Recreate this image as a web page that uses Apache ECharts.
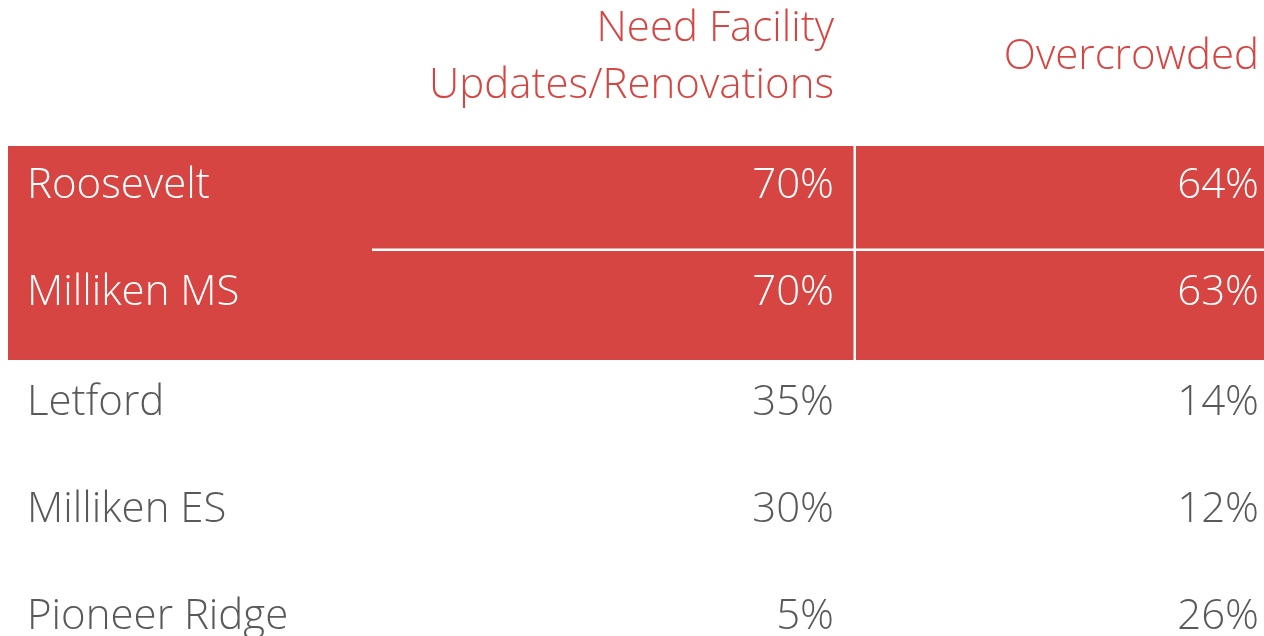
<!DOCTYPE html>
<html>
<head>
<meta charset="utf-8">
<script src="https://cdn.jsdelivr.net/npm/echarts@6/dist/echarts.min.js"></script>
<style>
  html, body { margin: 0; padding: 0; background: #fff; }
  #main { width: 1264px; height: 636px; }
</style>
</head>
<body>
<div id="main"></div>
<script>
// 数据
var schools = ['Roosevelt', 'Milliken MS', 'Letford', 'Milliken ES', 'Pioneer Ridge'];
var needFacility = [70, 70, 35, 30, 5];
var overcrowded = [64, 63, 14, 12, 26];
var highlighted = [1, 1, 0, 0, 0];
var headers = ['Need Facility\nUpdates/Renovations', 'Overcrowded'];

var RED = '#D64541';
var GREY = '#595959';
var FONT = '"Open Sans", "Liberation Sans", sans-serif';
var WEIGHT = 300;
var SIZE = 42;

var chart = echarts.init(document.getElementById('main'));

var rows = schools.map(function (name, i) {
    return [0, i, needFacility[i], overcrowded[i], highlighted[i], name];
});

function renderRow(params, api) {
    var idx = api.value(1);
    var center = api.coord([0, idx]);
    var h = api.size([0, 1])[1];
    var top = center[1] - h / 2;
    var hi = api.value(4) === 1;
    var nextHi = idx + 1 < highlighted.length && highlighted[idx + 1] === 1;
    var color = hi ? '#fff' : GREY;
    var ty = top + (hi ? 40 : 43);
    var children = [];
    if (hi) {
        children.push({ type: 'rect', shape: { x: 8, y: top, width: 1264 - 8, height: h }, style: { fill: RED } });
        children.push({ type: 'rect', shape: { x: 853.5, y: top, width: 2.5, height: h }, style: { fill: '#fff' } });
        if (nextHi) {
            children.push({ type: 'rect', shape: { x: 372, y: top + h - 4.5, width: 1264 - 372, height: 2.5 }, style: { fill: '#fff' } });
        }
    }
    var txt = { fill: color, fontSize: SIZE, fontFamily: FONT, fontWeight: WEIGHT, verticalAlign: 'middle' };
    children.push({ type: 'text', style: echarts.util.extend({ text: api.value(5), x: 27, y: ty, align: 'left' }, txt) });
    children.push({ type: 'text', style: echarts.util.extend({ text: api.value(2) + '%', x: 834, y: ty, align: 'right' }, txt) });
    children.push({ type: 'text', style: echarts.util.extend({ text: api.value(3) + '%', x: 1259, y: ty, align: 'right' }, txt) });
    return { type: 'group', children: children };
}

var option = {
    animation: false,
    grid: { left: 0, right: 0, top: 146, bottom: -45, containLabel: false, outerBoundsMode: 'none' },
    xAxis: { type: 'value', min: 0, max: 1264, show: false },
    yAxis: { type: 'category', data: schools, inverse: true, show: false },
    graphic: [
        { type: 'text', x: 834, y: 1, style: { text: headers[0], align: 'right', verticalAlign: 'top', fill: RED, fontSize: SIZE, lineHeight: 57, fontFamily: FONT, fontWeight: WEIGHT } },
        { type: 'text', x: 1259, y: 29, style: { text: headers[1], align: 'right', verticalAlign: 'top', fill: RED, fontSize: SIZE, lineHeight: 57, fontFamily: FONT, fontWeight: WEIGHT } }
    ],
    series: [{
        type: 'custom',
        renderItem: renderRow,
        data: rows,
        encode: { x: 0, y: 1 }
    }]
};

chart.setOption(option);
</script>
</body>
</html>
